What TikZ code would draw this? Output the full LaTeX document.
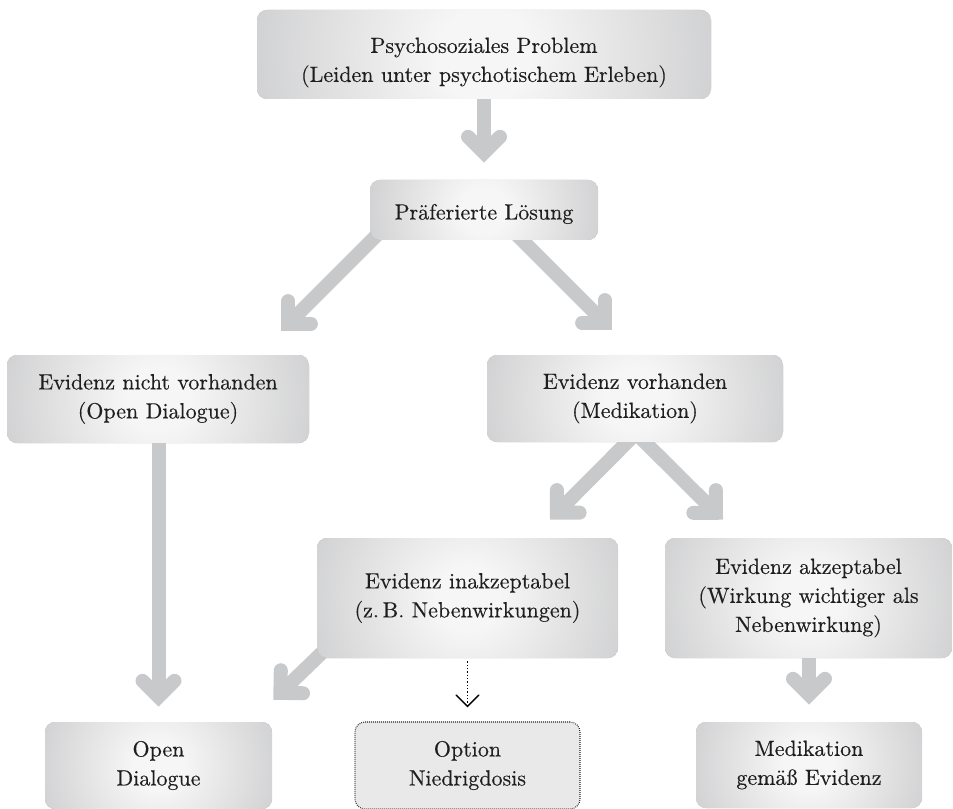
\documentclass[tikz,border=0pt]{standalone}
\usepackage{fontspec}
\setmainfont{lmroman10-regular.otf}[FakeBold=0.35]
\usetikzlibrary{arrows.meta,calc}
\definecolor{boxlight}{RGB}{246,246,246}
\definecolor{boxdark}{RGB}{163,164,167}
\definecolor{arrowgray}{RGB}{200,201,203}
\definecolor{dotfill}{RGB}{233,233,233}
\pgfdeclareradialshading{boxrad}{\pgfpoint{0bp}{0bp}}{color(0bp)=(boxlight); color(5bp)=(boxlight); color(50bp)=(boxdark)}
\pgfdeclarelayer{bg}
\pgfsetlayers{bg,main}
\begin{document}
\begin{tikzpicture}[x=0.75pt,y=-0.75pt,
  txt/.style={font=\fontsize{16.5}{21.75}\selectfont, text=black!88, align=center, inner sep=0pt},
  wh/.style 2 args={minimum width=#1*0.75pt, minimum height=#2*0.75pt},
  shadebox/.style={txt, rounded corners=7.5pt,
    path picture={
      \fill[boxdark] (path picture bounding box.south west) rectangle (path picture bounding box.north east);
      \path let \p1=($(path picture bounding box.north east)-(path picture bounding box.center)$),
                \n1={veclen(\x1,\y1)} in
        [shading=boxrad] (path picture bounding box.center) circle[radius=\n1];
    }},
  dotbox/.style={txt, rounded corners=7.5pt, fill=dotfill, draw=black!85, line width=0.8pt, dash pattern=on 0.6pt off 0.9pt},
  garrow/.style={draw=arrowgray, line width=10.5pt,
    -{Straight Barb[length=12pt, width=24pt, line cap=round, line join=miter]}},
  darrow/.style={draw=black, line width=1.1pt, dash pattern=on 1.1pt off 1.4pt,
    -{Straight Barb[length=8.5pt, width=17pt, line cap=round, line join=miter]}}
]
\useasboundingbox (0,0) rectangle (953,809);

\node[shadebox, wh={454}{89}] (top) at (484,54.5) {};
\node[txt] (toptext) at ($(top.center)+(0,8)$) {Psychosoziales Problem\\(Leiden unter psychotischem Erleben)};
\node[shadebox, wh={228}{60}] (pref) at (484,210) {};
\node[txt] (preftext) at ($(pref.center)+(0,4)$) {Präferierte Lösung};
\node[shadebox, wh={302}{88}] (nicht) at (158,399) {Evidenz nicht vorhanden\\(Open Dialogue)};
\node[shadebox, wh={296}{87}] (vorh) at (635,398.5) {Evidenz vorhanden\\(Medikation)};
\node[shadebox, wh={301}{120}] (inak) at (467.5,598) {Evidenz inakzeptabel\\(z.\,B. Nebenwirkungen)};
\node[shadebox, wh={287}{120}] (akz) at (808.5,598) {Evidenz akzeptabel\\(Wirkung wichtiger als\\Nebenwirkung)};
\node[shadebox, wh={227}{87}] (od) at (158.5,765.5) {Open\\Dialogue};
\node[dotbox, wh={225}{87}] (opt) at (467.5,765.5) {Option\\Niedrigdosis};
\node[shadebox, wh={226}{86}] (med) at (809,765) {Medikation\\gemäß Evidenz};

\begin{pgfonlayer}{bg}
\draw[garrow] ($(top.south)+(0,-5)$) -- ($(top.south |- pref.north)+(0,-17)$);
\draw[garrow] ($(pref.south west)+(22,-20)$) -- ($(nicht.north east)+(-28,-24)$);
\draw[garrow] ($(pref.south east)+(-81,-5)$) -- ($(vorh.north west)+(125,-25)$);
\draw[garrow] ($(vorh.south)+(-2,-6)$) -- ($(inak.north)+(82.5,-18)$);
\draw[garrow] ($(vorh.south)+(4,-6)$) -- ($(akz.north)+(-85.5,-18)$);
\draw[garrow] ($(od.north |- nicht.south)+(0,-5)$) -- ($(od.north)+(0,-15)$);
\draw[garrow] ($(inak.south west)+(14,-14)$) -- ($(od.north east)+(1,-22)$);
\draw[garrow] ($(med.north |- akz.south)+(0,-5)$) -- ($(med.north)+(0,-17)$);
\end{pgfonlayer}
\draw[darrow] ($(inak.south)+(0,3)$) -- ($(opt.north)+(0,-14)$);
\end{tikzpicture}
\end{document}
